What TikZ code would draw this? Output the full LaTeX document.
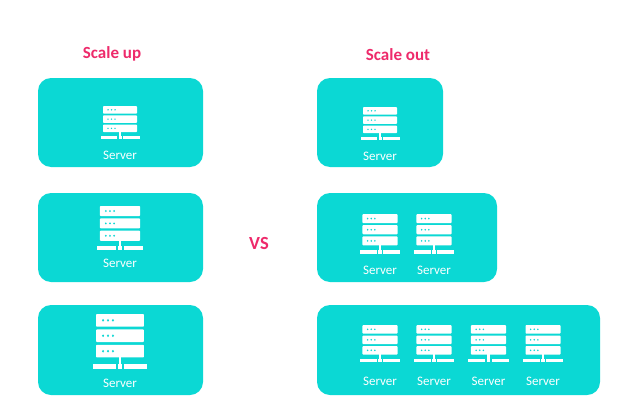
\documentclass[tikz,border=0pt]{standalone}
\usepackage{fontspec}
\setmainfont{Carlito}
\definecolor{boxcyan}{HTML}{0BD8D4}
\definecolor{headpink}{HTML}{EE2A6B}
\tikzset{
  panel/.style={fill=boxcyan,rounded corners=13pt},
  heading/.style={text=headpink,font=\fontsize{17}{19}\selectfont\bfseries,inner sep=0pt},
  srvlabel/.style={text=white,font=\fontsize{13}{15}\selectfont,inner sep=0pt},
  srvpart/.style={fill=white}
}
% cx, top y, x scale, y scale, node name, label y
\newcommand{\servericon}[6]{%
  \begin{scope}[shift={(#1,#2)},xscale=#3,yscale=#4]
    \foreach \r in {0,9.3,18.6}{
      \fill[srvpart,rounded corners=0.8pt] (-17,\r) rectangle (17,\r+7.6);
      \foreach \d in {-12,-8.5,-5}{
        \fill[boxcyan] (\d,\r+3.8) circle[x radius=0.8,y radius=0.8];
      }
    }
    \fill[srvpart] (-1,26) rectangle (1,31);
    \fill[srvpart] (-19.5,30) rectangle (-3,33);
    \fill[srvpart] (-1.5,30) rectangle (1.5,33);
    \fill[srvpart] (3,30) rectangle (19.5,33);
  \end{scope}
  \node[srvlabel] (#5) at (#1,#6) {Server};
}
\begin{document}
\begin{tikzpicture}[x=1pt,y=-1pt]
\useasboundingbox (0,0) rectangle (617,404);
\fill[white] (0,0) rectangle (617,404);
\node[heading] (up) at (112,53.5) {Scale up};
\node[heading] (out) at (398,55) {Scale out};
\node[heading,font=\fontsize{18.5}{20}\selectfont\bfseries] (vs) at (259,243) {VS};
\fill[panel] (38,78) rectangle (203,167);
\fill[panel] (38,193) rectangle (203,282);
\fill[panel] (38,305) rectangle (203,395);
\fill[panel] (317,78) rectangle (443,167);
\fill[panel] (317,193) rectangle (497,282);
\fill[panel] (317,305) rectangle (600,395);
\servericon{120}{106}{1}{1}{a}{155}
\servericon{120}{206}{1.18}{1.33}{b}{263}
\servericon{120}{314}{1.41}{1.66}{c}{383}
\servericon{380}{107}{1}{1}{d}{156}
\servericon{380}{214}{1.03}{1.2}{e}{270}
\servericon{434}{214}{1.03}{1.2}{f}{270}
\servericon{380}{325}{1.03}{1.13}{g}{381}
\servericon{434}{325}{1.03}{1.13}{h}{381}
\servericon{488.5}{325}{1.03}{1.13}{i}{381}
\servericon{543}{325}{1.03}{1.13}{j}{381}
\end{tikzpicture}
\end{document}
